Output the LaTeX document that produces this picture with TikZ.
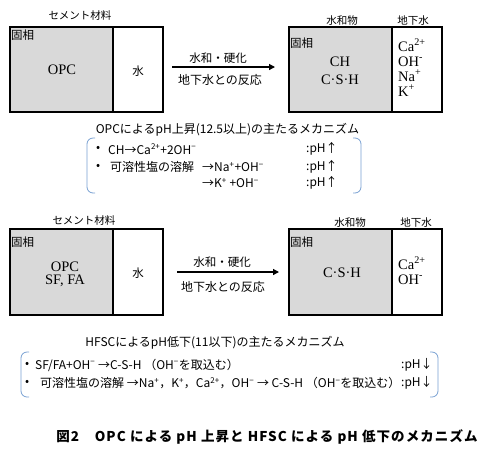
\documentclass[tikz,border=0pt]{standalone}
\usepackage{fontspec}
\setmainfont{Liberation Serif}
\newfontfamily\jp{Noto Sans CJK JP}
\newfontfamily\jpcap{Noto Sans CJK JP}[LetterSpace=8]
\usetikzlibrary{arrows.meta}
\definecolor{solidgray}{RGB}{217,217,217}
\definecolor{brk}{RGB}{120,160,210}
\tikzset{
  solid box/.style={draw=black, line width=1.2pt, fill=solidgray},
  water box/.style={draw=black, line width=1.2pt, fill=white},
  jlabel/.style={font=\jp\fontsize{10.5}{12}\selectfont, inner sep=0pt},
  chem/.style={font=\fontsize{14.5}{16}\selectfont, inner sep=0pt},
  ion/.style={chem, anchor=west, text height=8pt, text depth=0pt},
  mech/.style={font=\jp\fontsize{12}{14}\selectfont, inner sep=0pt, anchor=west},
  react/.style={-{Triangle[length=6pt,width=6pt]}, line width=1.3pt},
  bracket/.style={draw=brk, line width=0.8pt, rounded corners=6pt},
}
\begin{document}
\begin{tikzpicture}[x=1pt,y=-1pt]
\useasboundingbox (0,0) rectangle (479,451);
% ---------- top row ----------
\node[jlabel] (cm1) at (80,15) {セメント材料};
\draw[solid box] (10,27) rectangle (113,112);
\draw[water box] (113,27) rectangle (163,112);
\node[jlabel, anchor=west, font=\jp\fontsize{11.5}{13}\selectfont] (ks1) at (11,35) {固相};
\node[chem] (opc1) at (62,70) {OPC};
\node[jlabel, font=\jp\fontsize{11.5}{13}\selectfont] (w1) at (138,71) {水};

\coordinate (a1s) at (172,67);
\coordinate (a1e) at (275,67);
\draw[react] (a1s) -- (a1e);
\node[jlabel, font=\jp\fontsize{11.5}{13}\selectfont] (h1) at (218,58) {水和・硬化};
\node[jlabel, font=\jp\fontsize{12}{13}\selectfont] (g1) at (220,80) {地下水との反応};

\node[jlabel] (hy1) at (342,21) {水和物};
\node[jlabel] (gw1) at (413,21) {地下水};
\draw[solid box] (289,27) rectangle (392,112);
\draw[water box] (392,27) rectangle (442,112);
\node[jlabel, anchor=west, font=\jp\fontsize{11.5}{13}\selectfont] (ks2) at (290,43) {固相};
\node[chem] (ch) at (340,62) {CH};
\node[chem] (csh1) at (340,80) {C·S·H};
\node[ion] (ca1) at (398,47) {Ca\textsuperscript{2+}};
\node[ion] (oh1) at (398,62) {OH\textsuperscript{-}};
\node[ion] (na1) at (398,77) {Na\textsuperscript{+}};
\node[ion] (k1) at (398,92) {K\textsuperscript{+}};

% ---------- OPC mechanism ----------
\node[mech, anchor=center] (t1) at (227.5,130) {OPCによるpH上昇(12.5以上)の主たるメカニズム};
\draw[bracket] (95,138) -- (87,138) -- (87,193) -- (95,193);
\draw[bracket] (353,138) -- (361,138) -- (361,193) -- (353,193);
\node[mech] (b11) at (96,149) {•};
\node[mech] (m11) at (108,149) {CH→Ca\textsuperscript{2+}+2OH\textsuperscript{−}};
\node[mech] (p11) at (306,149) {:pH↑};
\node[mech] (b12) at (96,167) {•};
\node[mech] (m12) at (110,167) {可溶性塩の溶解};
\node[mech] (m12b) at (202,167) {→Na\textsuperscript{+}+OH\textsuperscript{−}};
\node[mech] (p12) at (306,167) {:pH↑};
\node[mech] (m13) at (202,183) {→K\textsuperscript{+} +OH\textsuperscript{−}};
\node[mech] (p13) at (306,183) {:pH↑};

% ---------- bottom row ----------
\node[jlabel] (cm2) at (84,220) {セメント材料};
\draw[solid box] (10,229) rectangle (113,315);
\draw[water box] (113,229) rectangle (163,315);
\node[jlabel, anchor=west, font=\jp\fontsize{11.5}{13}\selectfont] (ks3) at (11,242) {固相};
\node[chem] (opc2) at (65,267) {OPC};
\node[chem] (sf) at (65,281) {SF, FA};
\node[jlabel, font=\jp\fontsize{11.5}{13}\selectfont] (w2) at (138,273) {水};

\coordinate (a2s) at (177,272);
\coordinate (a2e) at (279,272);
\draw[react] (a2s) -- (a2e);
\node[jlabel, font=\jp\fontsize{11.5}{13}\selectfont] (h2) at (222,262) {水和・硬化};
\node[jlabel, font=\jp\fontsize{12}{13}\selectfont] (g2) at (223,287) {地下水との反応};

\node[jlabel] (hy2) at (350,223) {水和物};
\node[jlabel] (gw2) at (416,223) {地下水};
\draw[solid box] (289,229) rectangle (392,315);
\draw[water box] (392,229) rectangle (442,315);
\node[jlabel, anchor=west, font=\jp\fontsize{11.5}{13}\selectfont] (ks4) at (290,242) {固相};
\node[chem] (csh2) at (342,273) {C·S·H};
\node[ion] (ca2) at (398,265) {Ca\textsuperscript{2+}};
\node[ion] (oh2) at (398,280) {OH\textsuperscript{-}};

% ---------- HFSC mechanism ----------
\node[mech, anchor=center] (t2) at (215,343) {HFSCによるpH低下(11以下)の主たるメカニズム};
\draw[bracket] (29,352) -- (21,352) -- (21,397) -- (29,397);
\draw[bracket] (430,352) -- (438,352) -- (438,397) -- (430,397);
\node[mech] (b21) at (25,365) {•};
\node[mech] (m21) at (35,365) {SF/FA+OH\textsuperscript{−} →C-S-H （OH\textsuperscript{−}を取込む）};
\node[mech] (p21) at (401,365) {:pH↓};
\node[mech] (b22) at (25,383) {•};
\node[mech] (m22) at (40,383) {可溶性塩の溶解 →Na\textsuperscript{+}，K\textsuperscript{+}，Ca\textsuperscript{2+}，OH\textsuperscript{−} → C-S-H （OH\textsuperscript{−}を取込む）};
\node[mech] (p22) at (401,383) {:pH↓};

% ---------- caption ----------
\node[inner sep=0pt, font=\jpcap\bfseries\fontsize{13.5}{15}\selectfont] (cap) at (267,437) {図2　OPC による pH 上昇と HFSC による pH 低下のメカニズム};
\end{tikzpicture}
\end{document}
